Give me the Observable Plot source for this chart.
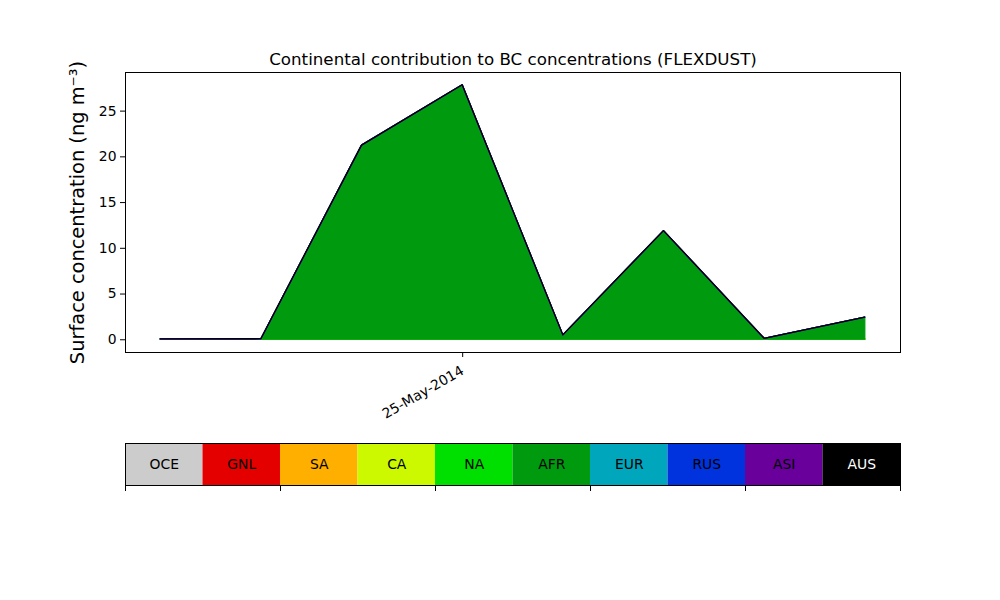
<!DOCTYPE html>
<html>
<head>
<meta charset="utf-8">
<script src="https://cdn.jsdelivr.net/npm/d3@7"></script>
<script src="https://cdn.jsdelivr.net/npm/@observablehq/plot@0.6"></script>
<style>
  html, body { margin: 0; padding: 0; background: white; }
  #chart svg { display: block; }
</style>
</head>
<body>
<div id="chart"></div>
<script>
// ---- data ----
const regions = ["OCE", "GNL", "SA", "CA", "NA", "AFR", "EUR", "RUS", "ASI", "AUS"];
const colors  = ["#cccccc", "#e50000", "#ffaf00", "#ccf900", "#00e000", "#009a0f", "#00a6bb", "#0033dd", "#6a009c", "#000000"];
const times = ["2014-05-24T15:00:00Z", "2014-05-24T18:00:00Z", "2014-05-24T21:00:00Z", "2014-05-25T00:00:00Z",
               "2014-05-25T03:00:00Z", "2014-05-25T06:00:00Z", "2014-05-25T09:00:00Z", "2014-05-25T12:00:00Z"];
const OCE = [0, 0, 0, 0, 0, 0, 0, 0];
const GNL = [0, 0, 0, 0, 0, 0, 0, 0];
const SA  = [0, 0, 0, 0, 0, 0, 0, 0];
const CA  = [0.04, 0.03, 0.03, 0.03, 0.03, 0.03, 0.03, 0.03];
const NA  = [0, 0, 0, 0, 0, 0, 0, 0];
const AFR = [0.0, 0.02, 21.2, 27.8, 0.45, 11.85, 0.08, 2.4];
const EUR = [0, 0, 0, 0, 0, 0, 0, 0];
const RUS = [0.01, 0.01, 0, 0, 0, 0, 0, 0];
const ASI = [0, 0, 0, 0, 0, 0, 0, 0];
const AUS = [0, 0, 0, 0, 0, 0, 0, 0];
const xTicks = ["2014-05-25T00:00:00Z"];
const yTicks = [0, 5, 10, 15, 20, 25];
const cbarTicks = [0, 2, 4, 6, 8, 10];
const titleText = "Continental contribution to BC concentrations (FLEXDUST)";
const yLabelText = "Surface concentration (ng m\u207B\u00B3)";

// ---- build table ----
const seriesValues = [OCE, GNL, SA, CA, NA, AFR, EUR, RUS, ASI, AUS];
const table = regions.flatMap((r, i) =>
  seriesValues[i].map((v, j) => ({date: new Date(times[j]), region: r, value: v})));

const t0 = +new Date(times[0]), t1 = +new Date(times[times.length - 1]);
const pad = 0.05 * (t1 - t0);
const totals = times.map((_, j) => d3.sum(seriesValues, s => s[j]));
const yMax = d3.max(totals), yMin = 0;
const yPad = 0.05 * (yMax - yMin);
const fmt = d3.utcFormat("%d-%b-%Y");

const font = "DejaVu Sans, Verdana, sans-serif";

const main = Plot.plot({
  width: 1000, height: 430,
  marginLeft: 125, marginRight: 100, marginTop: 72, marginBottom: 78,
  style: {fontFamily: font, fontSize: "13.9px", background: "white", color: "black", overflow: "visible"},
  x: {type: "utc", domain: [new Date(t0 - pad), new Date(t1 + pad)]},
  y: {domain: [yMin - yPad, yMax + yPad]},
  color: {domain: regions, range: colors},
  marks: [
    Plot.areaY(table, {x: "date", y: "value", z: "region", fill: "region", stroke: "region", strokeWidth: 1.3}),
    Plot.frame({stroke: "black", strokeWidth: 1}),
    Plot.axisY({ticks: yTicks, tickSize: 5, tickPadding: 4, label: null, fontSize: 13.9}),
    Plot.axisX({ticks: xTicks.map(d => new Date(d)), tickFormat: d => fmt(d), tickRotate: -30, tickSize: 5, tickPadding: 12, label: null, fontSize: 13.9}),
    Plot.text([titleText], {text: d => d, frameAnchor: "top", dy: -8, fontSize: 16.7, lineAnchor: "bottom"}),
    Plot.text([yLabelText], {text: d => d, frameAnchor: "left", rotate: -90, dx: -48, fontSize: 19.4, textAnchor: "middle"})
  ]
});

const idx = regions.map((r, i) => ({region: r, i}));
const cbar = Plot.plot({
  width: 1000, height: 170,
  marginLeft: 125, marginRight: 100, marginTop: 13, marginBottom: 115,
  style: {fontFamily: font, fontSize: "13.9px", background: "white", color: "black", overflow: "visible"},
  x: {domain: [0, regions.length]},
  color: {domain: regions, range: colors},
  marks: [
    Plot.rect(idx, {x1: d => d.i, x2: d => d.i + 1, fill: "region"}),
    Plot.text(idx.filter(d => d.region !== "AUS"), {x: d => d.i + 0.5, frameAnchor: "middle", text: "region", fill: "black", fontSize: 13.9}),
    Plot.text(idx.filter(d => d.region === "AUS"), {x: d => d.i + 0.5, frameAnchor: "middle", text: "region", fill: "white", fontSize: 13.9}),
    Plot.frame({stroke: "black"}),
    Plot.axisX({ticks: cbarTicks, tickFormat: () => "", tickSize: 6, label: null})
  ]
});

document.getElementById("chart").append(main, cbar);
</script>
</body>
</html>
